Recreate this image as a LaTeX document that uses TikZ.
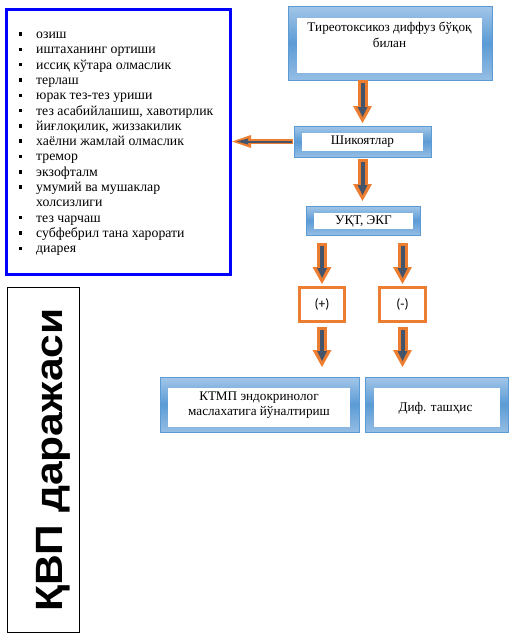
\documentclass[tikz,border=0pt]{standalone}
\usepackage{fontspec}
\setmainfont{Liberation Serif}
\newfontfamily\sansbold[FakeStretch=1.12]{Liberation Sans}
\newfontfamily\calib{Carlito}
\usetikzlibrary{arrows.meta,positioning}
\definecolor{listblue}{HTML}{0000FF}
\definecolor{boxlite}{HTML}{A3C6E8}
\definecolor{boxmid}{HTML}{5B9BD5}
\definecolor{arrorange}{HTML}{ED7D31}
\definecolor{arrslate}{HTML}{44546A}
\tikzset{
  framebox/.style={draw=boxmid, line width=0.6pt, top color=boxlite,
    bottom color=boxlite!80!boxmid, middle color=boxmid, inner sep=0pt, outer sep=0pt},
  whitebox/.style={fill=white, inner sep=0pt, outer sep=0pt},
  boxtext/.style={align=center, font=\fontsize{13.2}{15.5}\selectfont, inner sep=0pt},
  listtxt/.style={font=\fontsize{13.8}{15}\selectfont, inner sep=0pt},
  signbox/.style={draw=arrorange, line width=3pt, fill=white, inner sep=0pt,
    font=\calib\fontsize{13.5}{15}\selectfont},
  blockout/.style={line width=10pt, draw=arrorange,
    -{Triangle[width=19pt,length=17pt,line width=0pt]}},
  blockin/.style={line width=4pt, draw=arrslate,
    -{Triangle[width=10pt,length=10pt,line width=0pt]}},
  thinout/.style={line width=5pt, draw=arrorange,
    -{Triangle[width=13pt,length=19pt,line width=0pt]}},
  thinin/.style={line width=2pt, draw=arrslate,
    -{Triangle[width=6pt,length=11pt,line width=0pt]}}
}

\begin{document}
\begin{tikzpicture}[x=1pt,y=-1pt]
  \useasboundingbox (0,0) rectangle (512,640);

  % symptoms list
  \node[draw=listblue, line width=3.2pt, minimum width=224pt, minimum height=265pt,
    inner sep=0pt] (symp) at (118.5,142) {};
  \foreach \i in {0,...,10,12,13,14}
    \fill (18.7,32.3+15.3*\i) rectangle +(3.5,3.5);
  \foreach \i/\t in {0/озиш, 1/иштаханинг ортиши, 2/иссиқ кўтара олмаслик, 3/терлаш,
      4/юрак тез-тез уриши, {5/тез асабийлашиш, хавотирлик}, {6/йиғлоқилик,  жиззакилик},
      7/хаёлни жамлай олмаслик, 8/тремор, 9/экзофталм, 10/умумий ва мушаклар,
      11/холсизлиги, 12/тез чарчаш, 13/субфебрил тана харорати, 14/диарея}
    \node[listtxt, anchor=base west] (s\i) at (36,38.5+15.3*\i) {\t};

  % level label
  \node[draw, line width=1pt, minimum width=72pt, minimum height=345pt] (kvp) at (43,460) {};
  \node[rotate=90, anchor=base, inner sep=0pt,
    font=\sansbold\bfseries\fontsize{38}{40}\selectfont] (kvptxt) at (62,460) {ҚВП даражаси};

  % flow boxes
  \node[framebox, minimum width=204pt, minimum height=74pt] (top) at (390,43) {};
  \node[whitebox, minimum width=185pt, minimum height=55pt] (topin) at (389.5,45.5) {};
  \node[boxtext] (toptxt) at (389.5,35) {Тиреотоксикоз диффуз бўқоқ\\билан};

  \node[framebox, minimum width=137pt, minimum height=31pt] (shk) at (362.5,141.5) {};
  \node[whitebox, minimum width=121pt, minimum height=18pt] (shkin) at (362.5,142) {};
  \node[boxtext] (shktxt) at (362.5,142) {Шикоятлар};

  \node[framebox, minimum width=114pt, minimum height=29pt] (ukt) at (363,220.5) {};
  \node[whitebox, minimum width=99pt, minimum height=16pt] (uktin) at (363.5,221) {};
  \node[boxtext] (ukttxt) at (363.5,222) {УҚТ, ЭКГ};

  \node[signbox, minimum width=45pt, minimum height=34pt] (plus) at (322,304.5) {(+)};
  \node[signbox, minimum width=46pt, minimum height=34pt] (minus) at (402.5,304.5) {(-)};

  \node[framebox, minimum width=199pt, minimum height=55pt] (ktmp) at (259.5,404.5) {};
  \node[whitebox, minimum width=182pt, minimum height=39pt] (ktmpin) at (259,407.5) {};
  \node[boxtext, font=\fontsize{13.2}{15}\selectfont] (ktmptxt) at (259,405.5)
    {КТМП эндокринолог\\маслахатига йўналтириш};

  \node[framebox, minimum width=143pt, minimum height=55pt] (dif) at (436.5,404.5) {};
  \node[whitebox, minimum width=126pt, minimum height=39pt] (difin) at (437,407.5) {};
  \node[boxtext] (diftxt) at (435.5,408) {Диф. ташҳис};

  % block arrows
  \draw[blockout, shorten >=3pt] (top.south -| shk.north) -- (shk.north);
  \draw[blockin, shorten <=2.5pt, shorten >=9pt] (top.south -| shk.north) -- (shk.north);
  \draw[blockout, shorten <=2pt, shorten >=5pt] (shk.south) -- (shk.south |- ukt.north);
  \draw[blockin, shorten <=4.5pt, shorten >=11pt] (shk.south) -- (shk.south |- ukt.north);
  \foreach \b in {plus,minus} {
    \draw[blockout, shorten <=8pt, shorten >=2pt] (\b |- ukt.south) -- (\b.north);
    \draw[blockin, shorten <=10.5pt, shorten >=8pt] (\b |- ukt.south) -- (\b.north);
  }
  \foreach \b/\e in {plus/ktmp,minus/dif} {
    \draw[blockout, shorten <=4pt, shorten >=10pt] (\b.south) -- (\b.south |- \e.north);
    \draw[blockin, shorten <=6.5pt, shorten >=16pt] (\b.south) -- (\b.south |- \e.north);
  }
  \draw[thinout, shorten <=1pt] (shk.west) -- (symp.east |- shk.west);
  \draw[thinin, shorten <=2.5pt, shorten >=5pt] (shk.west) -- (symp.east |- shk.west);
\end{tikzpicture}
\end{document}
